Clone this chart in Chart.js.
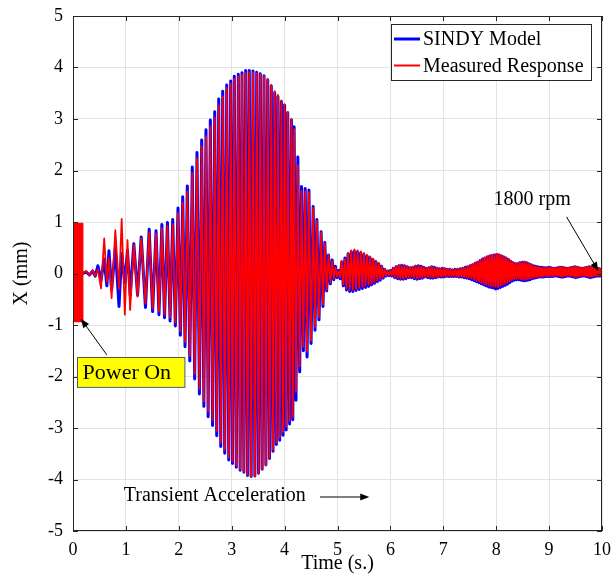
<!DOCTYPE html>
<html>
<head>
<meta charset="utf-8">
<script src="https://cdn.jsdelivr.net/npm/chart.js@4.4.1/dist/chart.umd.min.js"></script>
<style>
  html, body { margin: 0; padding: 0; background: #fff; }
  #wrap { width: 613px; height: 576px; }
</style>
</head>
<body>
<div id="wrap"><canvas id="chart" width="613" height="576"></canvas></div>
<script>
// power-on burst of the measured signal (s, mm)
const powerOnTime = [0.000, 0.006, 0.012, 0.018, 0.024, 0.030, 0.036, 0.042, 0.048, 0.054,
  0.060, 0.066, 0.072, 0.078, 0.084, 0.090, 0.096, 0.102, 0.108, 0.114,
  0.120, 0.126, 0.132, 0.138, 0.144, 0.150, 0.156, 0.162, 0.168, 0.174, 0.180];
const powerOnX = [0.97, -0.93, 0.97, -0.93, 0.97, -0.93, 0.97, -0.93, 0.97, -0.93,
  0.97, -0.93, 0.97, -0.93, 0.97, -0.93, 0.97, -0.93, 0.97, -0.93,
  0.97, -0.93, 0.97, -0.93, 0.97, -0.93, 0.97, -0.93, 0.97, -0.93, 0.97];

// peaks and troughs (s)
const time = [
  0.18, 0.25, 0.31, 0.37, 0.42, 0.47, 0.53, 0.59, 0.64, 0.68,
  0.73, 0.80, 0.87, 0.92, 0.98, 1.03, 1.08, 1.15, 1.22, 1.29,
  1.37, 1.44, 1.505, 1.57, 1.625, 1.68, 1.73, 1.785, 1.835, 1.885,
  1.935, 1.985, 2.03, 2.074, 2.118, 2.161, 2.208, 2.255, 2.30, 2.344,
  2.39, 2.433, 2.474, 2.514, 2.555, 2.596, 2.638, 2.679, 2.717, 2.755,
  2.793, 2.83, 2.868, 2.906, 2.944, 2.981, 3.015, 3.049, 3.087, 3.125,
  3.16, 3.195, 3.23, 3.265, 3.30, 3.333, 3.368, 3.403, 3.438, 3.473,
  3.507, 3.541, 3.576, 3.611, 3.646, 3.681, 3.715, 3.749, 3.781, 3.813,
  3.844, 3.875, 3.908, 3.94, 3.97, 4.00, 4.03, 4.06, 4.095, 4.13,
  4.155, 4.18, 4.215, 4.25, 4.285, 4.32, 4.355, 4.39, 4.425, 4.46,
  4.50, 4.54, 4.575, 4.61, 4.65, 4.69, 4.725, 4.76, 4.795, 4.83,
  4.865, 4.90, 4.93, 4.96, 4.99, 5.02, 5.05, 5.08, 5.11, 5.14,
  5.17, 5.20, 5.23, 5.26, 5.29, 5.32, 5.35, 5.38, 5.41, 5.44,
  5.47, 5.50, 5.53, 5.56, 5.588, 5.615, 5.643, 5.67, 5.698, 5.725,
  5.753, 5.78, 5.808, 5.835, 5.863, 5.89, 5.918, 5.945, 5.973, 6.0,
  6.027, 6.054, 6.081, 6.108, 6.135, 6.161, 6.188, 6.214, 6.241, 6.267,
  6.294, 6.32, 6.346, 6.372, 6.398, 6.424, 6.45, 6.476, 6.502, 6.528,
  6.554, 6.579, 6.605, 6.63, 6.656, 6.681, 6.707, 6.732, 6.757, 6.782,
  6.807, 6.832, 6.857, 6.882, 6.907, 6.932, 6.957, 6.982, 7.007, 7.031,
  7.056, 7.08, 7.105, 7.129, 7.154, 7.178, 7.202, 7.226, 7.25, 7.274,
  7.298, 7.322, 7.346, 7.37, 7.394, 7.417, 7.441, 7.464, 7.488, 7.511,
  7.535, 7.558, 7.581, 7.604, 7.627, 7.65, 7.673, 7.696, 7.719, 7.742,
  7.765, 7.787, 7.81, 7.832, 7.855, 7.877, 7.9, 7.922, 7.945, 7.967,
  7.99, 8.012, 8.034, 8.056, 8.078, 8.1, 8.122, 8.144, 8.166, 8.188,
  8.21, 8.232, 8.254, 8.275, 8.297, 8.318, 8.34, 8.361, 8.383, 8.404,
  8.426, 8.447, 8.469, 8.49, 8.512, 8.533, 8.555, 8.576, 8.598, 8.619,
  8.64, 8.661, 8.682, 8.703, 8.724, 8.745, 8.766, 8.787, 8.808, 8.829,
  8.85, 8.871, 8.892, 8.913, 8.934, 8.955, 8.976, 8.997, 9.018, 9.039,
  9.06, 9.08, 9.1, 9.121, 9.142, 9.162, 9.182, 9.203, 9.224, 9.244,
  9.264, 9.285, 9.306, 9.326, 9.346, 9.366, 9.386, 9.406, 9.426, 9.446,
  9.466, 9.486, 9.506, 9.526, 9.546, 9.566, 9.586, 9.606, 9.626, 9.645,
  9.664, 9.684, 9.704, 9.723, 9.742, 9.762, 9.782, 9.801, 9.82, 9.84,
  9.86, 9.879, 9.898, 9.918, 9.938, 9.957, 9.976, 9.996
];

// SINDY model X (mm)
const sindy = [
  0, 0.03, -0.03, 0.05, -0.05, 0.15, -0.13, 0.28, -0.24, 0.44,
  -0.32, 0.49, -0.64, 0.39, -0.18, 0.45, -0.42, 0.58, -0.42, 0.71,
  -0.66, 0.86, -0.74, 0.83, -0.80, 0.95, -0.86, 0.99, -0.92, 1.05,
  -1.02, 1.27, -1.20, 1.49, -1.42, 1.70, -1.70, 2.07, -2.05, 2.35,
  -2.34, 2.59, -2.58, 2.79, -2.78, 2.98, -2.95, 3.14, -3.15, 3.39,
  -3.36, 3.54, -3.49, 3.66, -3.62, 3.74, -3.69, 3.83, -3.76, 3.87,
  -3.82, 3.90, -3.86, 3.94, -3.92, 3.94, -3.94, 3.93, -3.93, 3.91,
  -3.88, 3.88, -3.80, 3.84, -3.72, 3.76, -3.59, 3.64, -3.45, 3.51,
  -3.32, 3.43, -3.24, 3.34, -3.14, 3.27, -3.04, 3.12, -2.92, 2.98,
  -2.84, 2.85, -2.46, 2.26, -1.91, 1.69, -1.50, 1.65, -1.62, 1.62,
  -1.36, 1.30, -1.10, 1.05, -0.90, 0.81, -0.64, 0.60, -0.34, 0.36,
  -0.20, 0.26, -0.12, 0.14, -0.08, 0.06, -0.10, 0.22, -0.24, 0.30,
  -0.32, 0.38, -0.35, 0.42, -0.35, 0.43, -0.33, 0.42, -0.31, 0.40,
  -0.29, 0.37, -0.27, 0.34, -0.25, 0.31, -0.22, 0.27, -0.19, 0.23,
  -0.16, 0.19, -0.13, 0.14, -0.09, 0.08, -0.05, 0.05, -0.04, 0.06,
  -0.05, 0.10, -0.08, 0.13, -0.10, 0.15, -0.11, 0.16, -0.11, 0.15,
  -0.10, 0.13, -0.08, 0.11, -0.08, 0.12, -0.10, 0.14, -0.11, 0.15,
  -0.10, 0.14, -0.09, 0.12, -0.07, 0.10, -0.08, 0.11, -0.09, 0.13,
  -0.09, 0.12, -0.08, 0.10, -0.07, 0.09, -0.07, 0.10, -0.07, 0.09,
  -0.06, 0.08, -0.06, 0.08, -0.06, 0.07, -0.06, 0.08, -0.06, 0.08,
  -0.07, 0.09, -0.07, 0.10, -0.08, 0.12, -0.09, 0.13, -0.10, 0.15,
  -0.12, 0.17, -0.14, 0.20, -0.16, 0.22, -0.18, 0.25, -0.20, 0.28,
  -0.22, 0.30, -0.24, 0.32, -0.26, 0.34, -0.27, 0.35, -0.28, 0.36,
  -0.30, 0.37, -0.29, 0.36, -0.27, 0.34, -0.25, 0.32, -0.23, 0.30,
  -0.21, 0.27, -0.18, 0.24, -0.15, 0.21, -0.13, 0.19, -0.12, 0.19,
  -0.12, 0.21, -0.13, 0.22, -0.14, 0.22, -0.14, 0.21, -0.13, 0.19,
  -0.12, 0.17, -0.10, 0.15, -0.09, 0.14, -0.08, 0.13, -0.07, 0.12,
  -0.07, 0.12, -0.07, 0.11, -0.06, 0.11, -0.06, 0.12, -0.06, 0.11,
  -0.06, 0.10, -0.05, 0.10, -0.05, 0.11, -0.06, 0.12, -0.07, 0.12,
  -0.07, 0.11, -0.06, 0.10, -0.05, 0.10, -0.05, 0.11, -0.06, 0.12,
  -0.07, 0.13, -0.08, 0.12, -0.07, 0.11, -0.06, 0.10, -0.05, 0.10,
  -0.05, 0.11, -0.06, 0.12, -0.07, 0.13, -0.08, 0.12, -0.07, 0.11,
  -0.06, 0.10, -0.05, 0.10, -0.05, 0.09, -0.05, 0.08
];

// measured response X (mm)
const measured = [
  0, 0.05, -0.03, 0.06, -0.04, 0.08, -0.29, 0.68, -0.15, 0.30,
  -0.48, 0.84, -0.30, 1.06, -0.80, 0.65, -0.71, 0.55, -0.45, 0.68,
  -0.58, 0.80, -0.68, 0.78, -0.74, 0.88, -0.80, 0.92, -0.86, 0.96,
  -0.95, 1.17, -1.12, 1.38, -1.33, 1.59, -1.60, 1.95, -1.95, 2.23,
  -2.24, 2.47, -2.48, 2.66, -2.68, 2.86, -2.85, 3.02, -3.06, 3.27,
  -3.28, 3.44, -3.42, 3.60, -3.57, 3.69, -3.65, 3.78, -3.73, 3.83,
  -3.80, 3.86, -3.85, 3.90, -3.91, 3.91, -3.94, 3.91, -3.94, 3.89,
  -3.89, 3.87, -3.80, 3.83, -3.72, 3.77, -3.58, 3.66, -3.42, 3.54,
  -3.28, 3.47, -3.19, 3.36, -3.08, 3.28, -2.98, 3.14, -2.86, 3.00,
  -2.78, 2.80, -2.30, 2.10, -1.80, 1.60, -1.42, 1.60, -1.52, 1.58,
  -1.30, 1.28, -1.04, 1.02, -0.85, 0.80, -0.60, 0.58, -0.32, 0.36,
  -0.18, 0.24, -0.10, 0.12, -0.06, 0.05, -0.08, 0.25, -0.21, 0.28,
  -0.29, 0.40, -0.32, 0.45, -0.32, 0.47, -0.30, 0.45, -0.28, 0.43,
  -0.26, 0.40, -0.24, 0.36, -0.22, 0.33, -0.20, 0.29, -0.17, 0.25,
  -0.14, 0.20, -0.11, 0.15, -0.08, 0.09, -0.04, 0.05, -0.03, 0.06,
  -0.04, 0.11, -0.07, 0.14, -0.09, 0.16, -0.10, 0.16, -0.10, 0.15,
  -0.09, 0.14, -0.08, 0.12, -0.07, 0.13, -0.09, 0.15, -0.10, 0.15,
  -0.09, 0.14, -0.08, 0.13, -0.07, 0.11, -0.07, 0.12, -0.08, 0.13,
  -0.08, 0.12, -0.07, 0.11, -0.07, 0.10, -0.06, 0.10, -0.06, 0.10,
  -0.06, 0.09, -0.05, 0.08, -0.05, 0.08, -0.05, 0.08, -0.06, 0.09,
  -0.06, 0.10, -0.06, 0.11, -0.07, 0.12, -0.08, 0.14, -0.09, 0.16,
  -0.10, 0.18, -0.12, 0.21, -0.14, 0.23, -0.16, 0.26, -0.18, 0.29,
  -0.20, 0.31, -0.22, 0.33, -0.23, 0.35, -0.24, 0.36, -0.25, 0.37,
  -0.26, 0.38, -0.26, 0.37, -0.24, 0.35, -0.22, 0.33, -0.20, 0.31,
  -0.18, 0.28, -0.16, 0.25, -0.13, 0.22, -0.11, 0.20, -0.10, 0.19,
  -0.10, 0.21, -0.11, 0.22, -0.12, 0.23, -0.12, 0.21, -0.11, 0.19,
  -0.10, 0.17, -0.09, 0.15, -0.08, 0.14, -0.07, 0.13, -0.06, 0.12,
  -0.06, 0.12, -0.06, 0.11, -0.05, 0.11, -0.05, 0.12, -0.05, 0.12,
  -0.05, 0.11, -0.04, 0.11, -0.04, 0.12, -0.05, 0.13, -0.06, 0.13,
  -0.06, 0.12, -0.05, 0.11, -0.04, 0.11, -0.04, 0.12, -0.05, 0.13,
  -0.06, 0.14, -0.07, 0.13, -0.06, 0.12, -0.05, 0.11, -0.04, 0.11,
  -0.04, 0.12, -0.05, 0.13, -0.06, 0.14, -0.07, 0.13, -0.06, 0.12,
  -0.05, 0.11, -0.04, 0.11, -0.04, 0.10, -0.04, 0.09
];

const xTicks = [0, 1, 2, 3, 4, 5, 6, 7, 8, 9, 10];
const yTicks = [-5, -4, -3, -2, -1, 0, 1, 2, 3, 4, 5];

if (time.length !== sindy.length || time.length !== measured.length) {
  console.warn('length mismatch', time.length, sindy.length, measured.length);
}

const sindyPts = time.map((t, i) => ({ x: t, y: sindy[i] }));
const measuredPts = powerOnTime.map((t, i) => ({ x: t, y: powerOnX[i] }))
  .concat(time.map((t, i) => ({ x: t, y: measured[i] })));

const serif = '"Liberation Serif", "DejaVu Serif", serif';

function arrow(ctx, x1, y1, x2, y2) {
  const a = Math.atan2(y2 - y1, x2 - x1);
  const len = 9, half = 3.5;
  ctx.beginPath();
  ctx.moveTo(x1, y1);
  ctx.lineTo(x2 - Math.cos(a) * 4, y2 - Math.sin(a) * 4);
  ctx.stroke();
  ctx.beginPath();
  ctx.moveTo(x2, y2);
  ctx.lineTo(x2 - len * Math.cos(a) + half * Math.sin(a), y2 - len * Math.sin(a) - half * Math.cos(a));
  ctx.lineTo(x2 - len * Math.cos(a) - half * Math.sin(a), y2 - len * Math.sin(a) + half * Math.cos(a));
  ctx.closePath();
  ctx.fill();
}

// axes box, inward ticks, legend and the text notes
const extras = {
  id: 'extras',
  afterDraw(chart) {
    const { ctx, chartArea: a } = chart;
    const sx = chart.scales.x, sy = chart.scales.y;
    ctx.save();
    ctx.strokeStyle = '#262626';
    ctx.lineWidth = 1;
    ctx.strokeRect(a.left + 0.5, a.top + 0.5, a.right - a.left - 1, a.bottom - a.top - 1);
    ctx.beginPath();
    xTicks.forEach(v => {
      const px = Math.round(sx.getPixelForValue(v)) + 0.5;
      ctx.moveTo(px, a.bottom); ctx.lineTo(px, a.bottom - 5);
      ctx.moveTo(px, a.top); ctx.lineTo(px, a.top + 5);
    });
    yTicks.forEach(v => {
      const py = Math.round(sy.getPixelForValue(v)) + 0.5;
      ctx.moveTo(a.left, py); ctx.lineTo(a.left + 5, py);
      ctx.moveTo(a.right, py); ctx.lineTo(a.right - 5, py);
    });
    ctx.stroke();

    // legend
    const lx = a.right - 211, ly = a.top + 8, lw = 200, lh = 56;
    ctx.fillStyle = '#fff';
    ctx.fillRect(lx, ly, lw, lh);
    ctx.strokeStyle = '#262626';
    ctx.strokeRect(lx + 0.5, ly + 0.5, lw, lh);
    ctx.font = '20px ' + serif;
    ctx.textBaseline = 'middle';
    ctx.textAlign = 'left';
    chart.data.datasets.forEach((ds, i) => {
      const yy = ly + 15 + i * 26.5;
      ctx.strokeStyle = ds.borderColor;
      ctx.lineWidth = i === 0 ? 3 : 2;
      ctx.beginPath(); ctx.moveTo(lx + 3, yy); ctx.lineTo(lx + 29, yy); ctx.stroke();
      ctx.fillStyle = '#000';
      ctx.fillText(ds.label, lx + 32, yy + 1);
    });

    // Power On note
    const bx1 = sx.getPixelForValue(0.08), bx2 = sx.getPixelForValue(2.11);
    const by1 = sy.getPixelForValue(-1.62), by2 = sy.getPixelForValue(-2.2);
    ctx.fillStyle = '#ffff00';
    ctx.fillRect(bx1, by1, bx2 - bx1, by2 - by1);
    ctx.strokeStyle = '#555';
    ctx.lineWidth = 1;
    ctx.strokeRect(Math.round(bx1) + 0.5, Math.round(by1) + 0.5, bx2 - bx1, by2 - by1);
    ctx.fillStyle = '#000';
    ctx.font = '22px ' + serif;
    ctx.fillText('Power On', sx.getPixelForValue(0.18), (by1 + by2) / 2 + 1);

    ctx.strokeStyle = '#000';
    ctx.fillStyle = '#000';
    ctx.lineWidth = 1;
    arrow(ctx, sx.getPixelForValue(0.64), sy.getPixelForValue(-1.58),
      sx.getPixelForValue(0.15), sy.getPixelForValue(-0.88));

    // 1800 rpm note
    ctx.font = '20px ' + serif;
    ctx.textAlign = 'center';
    ctx.fillText('1800 rpm', sx.getPixelForValue(8.68), sy.getPixelForValue(1.43));
    arrow(ctx, sx.getPixelForValue(9.33), sy.getPixelForValue(1.1),
      sx.getPixelForValue(9.93), sy.getPixelForValue(0.05));

    // Transient Acceleration note
    ctx.fillText('Transient Acceleration', sx.getPixelForValue(2.68), sy.getPixelForValue(-4.32));
    arrow(ctx, sx.getPixelForValue(4.67), sy.getPixelForValue(-4.34),
      sx.getPixelForValue(5.6), sy.getPixelForValue(-4.34));
    ctx.restore();
  }
};

new Chart(document.getElementById('chart'), {
  type: 'line',
  data: {
    datasets: [
      {
        label: 'SINDY Model',
        data: sindyPts,
        borderColor: '#0000ff',
        borderWidth: 3,
        borderJoinStyle: 'round',
        pointRadius: 0,
        tension: 0,
        order: 2
      },
      {
        label: 'Measured Response',
        data: measuredPts,
        borderColor: '#ff0000',
        borderWidth: 1.8,
        borderJoinStyle: 'round',
        pointRadius: 0,
        tension: 0,
        order: 1
      }
    ]
  },
  options: {
    responsive: false,
    animation: false,
    parsing: false,
    normalized: true,
    layout: { padding: { top: 16, right: 11, left: 0, bottom: 0 } },
    plugins: {
      legend: { display: false },
      tooltip: { enabled: false }
    },
    scales: {
      x: {
        type: 'linear',
        min: 0,
        max: 10,
        afterFit(scale) {
          scale.height = 45;
          scale.paddingLeft = 0;
          scale.paddingRight = 0;
        },
        afterBuildTicks(scale) { scale.ticks = xTicks.map(v => ({ value: v })); },
        grid: { color: '#e3e3e3', drawTicks: false },
        border: { display: false },
        ticks: {
          padding: 8,
          color: '#000',
          font: { family: serif, size: 18 },
          callback: v => String(v)
        },
        title: {
          display: true,
          text: 'Time (s.)',
          color: '#000',
          font: { family: serif, size: 20 },
          padding: { top: 0, bottom: 0 }
        }
      },
      y: {
        type: 'linear',
        min: -5,
        max: 5,
        afterFit(scale) {
          scale.width = 73;
          scale.paddingTop = 0;
          scale.paddingBottom = 0;
        },
        afterBuildTicks(scale) { scale.ticks = yTicks.map(v => ({ value: v })); },
        grid: { color: '#e3e3e3', drawTicks: false },
        border: { display: false },
        ticks: {
          padding: 10,
          color: '#000',
          font: { family: serif, size: 18 },
          callback: v => String(v)
        },
        title: {
          display: true,
          text: 'X (mm)',
          color: '#000',
          font: { family: serif, size: 20 },
          padding: { top: 10, bottom: 0 }
        }
      }
    }
  },
  plugins: [extras]
});
</script>
</body>
</html>
